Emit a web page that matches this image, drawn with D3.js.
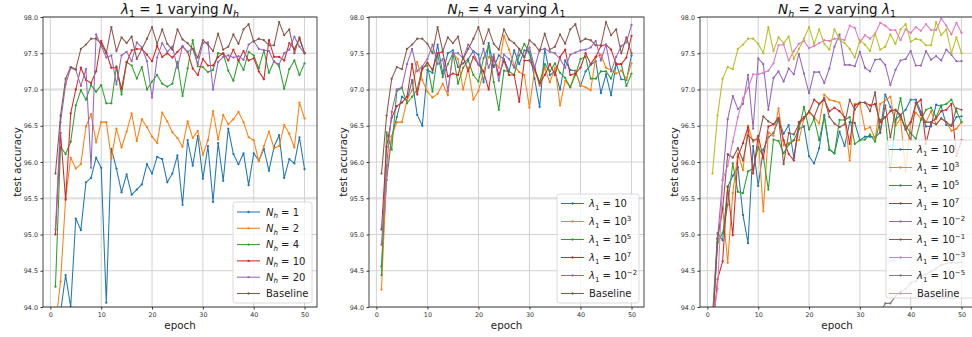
<!DOCTYPE html>
<html><head><meta charset="utf-8">
<script src="https://cdn.jsdelivr.net/npm/d3@7"></script>
<style>body{margin:0;background:#fff}svg{display:block}text{white-space:pre}</style>
</head><body><svg id="c" width="972" height="337"></svg>
<script>
// ---------- data ----------
const epochs = [1,2,3,4,5,6,7,8,9,10,11,12,13,14,15,16,17,18,19,20,21,22,23,24,25,26,27,28,29,30,31,32,33,34,35,36,37,38,39,40,41,42,43,44,45,46,47,48,49,50];
const yTicks = [94.0,94.5,95.0,95.5,96.0,96.5,97.0,97.5,98.0];
const xTicks = [0,10,20,30,40,50];

const baseline = [95.84,96.64,97.15,97.31,97.28,97.56,97.62,97.70,97.70,97.63,97.50,97.86,97.53,97.72,97.64,97.73,97.42,97.56,97.70,97.86,97.63,97.83,97.63,97.55,97.83,97.69,97.64,97.56,97.44,97.68,97.62,97.53,97.77,97.55,97.59,97.76,97.63,97.83,97.90,97.66,97.70,97.68,97.61,97.61,97.93,97.75,97.83,97.50,97.72,97.50];

// panel 1: lambda_1 = 1, varying N_h
const nh1 = [92.5,93.93,94.44,94.0,95.22,95.06,95.72,95.78,96.06,95.92,94.06,96.18,95.91,95.58,95.83,95.55,95.62,95.69,95.97,95.84,96.07,96.04,95.72,95.84,96.09,95.41,96.30,95.95,96.36,95.77,96.22,95.45,96.26,95.74,96.46,96.11,95.97,96.12,95.68,96.12,96.02,96.18,95.88,96.21,96.37,95.78,96.04,95.98,96.34,95.90];
const nh2 = [93.74,94.35,95.50,96.06,95.91,95.97,96.49,96.66,96.27,96.55,96.55,96.05,96.46,96.20,96.42,96.67,96.29,96.59,96.48,96.35,96.26,96.68,96.56,96.41,96.33,96.21,96.56,96.33,96.43,96.10,96.30,96.70,96.31,96.65,96.52,96.59,96.69,96.55,96.34,96.30,96.01,96.22,96.42,96.19,96.22,96.51,96.39,96.20,96.82,96.60];
const nh4 = [94.28,96.21,96.11,96.28,96.78,96.99,96.86,97.06,96.97,97.06,96.81,96.81,97.32,96.93,97.38,97.33,97.15,97.31,97.00,97.11,97.20,97.08,97.04,97.08,97.38,96.91,97.29,97.68,97.32,97.31,97.24,97.27,97.50,97.49,97.26,97.12,97.40,97.27,97.52,97.47,97.29,97.54,97.23,97.39,97.32,97.01,97.28,97.40,97.20,97.36];
const nh10 = [95.00,96.40,95.48,96.67,97.00,97.30,97.13,97.09,97.25,97.67,97.51,97.30,97.30,97.01,97.37,97.54,97.56,97.56,97.48,97.39,97.60,97.45,97.50,97.44,97.52,97.59,97.52,97.29,97.20,97.42,97.33,97.33,97.45,97.50,97.40,97.55,97.40,97.53,97.40,97.43,97.25,97.14,97.68,97.45,97.45,97.40,97.64,97.56,97.70,97.50];
const nh20 = [95.07,96.55,97.07,97.30,97.27,97.05,97.28,95.92,97.76,97.60,97.44,97.47,97.07,97.47,97.52,97.39,97.65,97.58,97.39,96.89,97.44,97.64,97.52,97.59,97.30,97.60,97.52,97.56,97.35,97.64,97.65,97.00,97.38,97.45,97.47,97.44,97.46,97.41,97.62,97.67,97.56,97.54,97.53,97.38,97.35,97.50,97.55,97.73,97.59,97.50];

// panel 2: N_h = 4, varying lambda_1
const p2_l1e1 = [94.56,95.75,96.35,96.62,96.90,96.85,97.13,96.65,96.50,97.27,97.23,97.62,97.22,97.50,97.54,97.31,97.36,97.42,97.53,97.48,97.10,97.64,97.31,97.47,97.42,97.25,97.54,97.35,97.54,97.52,97.15,96.76,97.56,97.20,97.25,97.00,97.40,97.27,97.26,97.05,97.25,97.34,97.39,96.95,97.21,96.92,97.36,97.14,97.13,97.47];
const p2_l1e3 = [94.24,95.86,96.35,96.55,96.55,96.85,96.99,97.38,97.13,96.97,96.89,96.94,97.08,96.92,97.50,97.42,97.00,97.30,96.86,96.98,97.25,97.45,97.40,97.30,97.74,97.55,97.33,97.24,97.20,96.75,97.28,97.05,97.30,97.10,97.30,96.78,97.12,97.03,97.25,97.06,97.03,96.99,97.45,97.48,97.30,97.27,97.22,97.26,97.14,97.36];
const p2_l1e5 = [94.44,96.41,96.17,96.98,97.02,96.81,96.90,97.00,97.30,97.33,96.97,97.48,97.17,97.35,97.50,97.08,97.30,97.40,97.20,97.11,97.43,97.60,97.10,96.72,97.26,97.25,97.20,97.47,97.63,97.50,97.30,97.10,97.35,97.25,97.36,97.23,97.16,97.03,97.20,97.42,97.45,97.15,97.15,97.25,97.25,97.15,97.35,97.35,97.05,97.22];
const p2_l1e7 = [95.07,96.21,96.61,96.77,96.82,96.90,97.35,96.93,97.28,97.37,97.27,97.50,97.52,97.18,97.22,97.20,97.45,97.25,97.45,97.35,97.25,97.00,97.45,97.20,97.40,97.20,97.20,96.83,97.40,97.40,97.28,97.08,97.20,97.35,97.20,97.45,97.55,97.20,97.22,97.30,97.50,97.35,97.45,97.60,97.62,97.55,97.35,97.35,97.44,97.74];
const p2_l1em2 = [94.86,95.95,96.69,97.00,97.03,97.35,97.56,97.25,97.32,97.42,97.62,97.35,97.42,96.98,97.50,97.50,97.43,97.62,97.52,97.34,97.56,97.30,97.48,97.12,97.48,97.42,97.30,97.55,97.45,97.58,97.30,97.55,97.56,97.52,97.50,97.42,97.30,97.48,97.51,97.54,97.55,97.58,97.67,97.40,97.62,97.25,97.45,97.60,97.65,97.89];

// panel 3: N_h = 2, varying lambda_1
const p3_l1e1 = [93.85,95.02,94.92,95.66,95.81,95.93,95.27,94.88,96.22,95.67,96.17,96.34,96.40,96.59,96.39,96.51,96.06,96.46,96.49,96.08,95.98,96.19,96.65,96.17,96.12,96.42,96.22,96.55,96.54,96.30,96.35,96.35,96.34,96.41,96.93,96.76,96.58,96.65,96.72,96.86,96.86,96.69,96.49,96.49,96.79,96.77,96.51,96.50,96.62,96.63];
const p3_l1e3 = [93.8,94.95,95.38,94.61,95.57,96.12,95.89,96.50,96.28,96.35,95.32,96.41,96.36,96.74,96.23,96.26,96.30,96.30,96.60,96.68,96.62,96.53,96.93,96.86,96.84,96.82,96.60,96.02,96.80,96.80,96.45,96.48,96.32,96.80,96.85,96.90,96.50,96.60,95.87,96.55,96.68,96.60,96.55,96.70,96.52,96.60,96.55,96.43,96.46,96.55];
const p3_l1e5 = [93.7,94.88,95.02,95.41,95.98,95.59,95.57,95.87,95.91,96.21,96.07,95.62,96.31,96.29,96.12,96.24,96.30,96.45,96.76,96.45,96.60,96.30,96.63,96.17,96.12,96.58,96.58,96.62,96.25,96.30,96.31,96.38,96.28,96.58,96.62,95.88,96.55,96.88,96.50,96.40,96.32,96.58,96.72,96.75,96.62,96.78,96.80,96.86,96.70,96.55];
const p3_l1e7 = [93.6,94.38,94.63,95.66,94.99,96.07,96.26,96.48,95.84,96.36,96.05,96.49,96.52,96.60,96.30,96.11,96.02,96.55,96.62,96.69,96.86,96.80,96.86,96.70,96.75,96.70,96.62,96.25,96.78,96.82,96.82,96.78,96.80,96.55,96.62,96.70,96.72,96.65,96.45,96.55,96.80,96.86,96.25,96.55,96.60,96.70,96.72,96.80,96.08,96.30];
const p3_l1em2 = [93.7,94.94,95.75,96.59,96.91,96.73,96.80,97.20,96.46,97.43,97.35,96.72,97.16,97.25,97.11,97.29,97.21,97.49,97.22,96.95,97.24,97.24,97.09,97.29,97.59,97.76,97.34,97.34,97.32,97.52,97.30,97.25,97.41,97.42,97.34,97.06,97.27,97.40,97.42,97.53,97.33,97.33,97.53,97.41,97.46,97.40,97.55,97.48,97.39,97.39];
const p3_l1em1 = [93.7,94.94,95.35,96.11,96.06,96.19,96.02,96.37,96.30,96.31,96.63,96.56,96.52,96.61,95.97,96.40,96.38,96.52,96.60,96.70,96.62,96.80,96.88,96.62,96.53,96.48,96.52,96.86,96.72,96.82,96.82,96.70,96.96,96.40,96.78,96.34,96.72,96.62,96.45,96.30,96.82,96.65,96.55,96.55,96.52,96.60,96.55,96.50,96.74,96.72];
const p3_l1em3 = [93.8,94.25,95.75,95.95,96.28,96.62,96.88,97.02,97.21,97.21,97.23,97.26,97.36,97.61,97.62,97.40,97.53,97.63,97.67,97.57,97.60,97.64,97.68,97.67,97.70,97.70,97.68,97.88,97.85,97.65,97.75,97.70,97.77,97.92,97.88,97.82,97.82,97.68,97.83,97.78,97.86,97.81,97.90,97.82,97.82,97.98,97.88,97.76,97.92,97.78];
const p3_l1em5 = [88.5,89.6,90.4,90.9,91.3,91.6,91.9,92.1,92.3,92.5,92.6,92.7,92.8,92.9,93.0,93.1,93.1,93.2,93.3,93.3,93.4,93.4,93.5,93.5,93.6,93.6,93.6,93.7,93.7,93.75,93.8,93.85,93.9,93.93,94.05,94.05,94.15,94.21,94.25,94.33,94.36,94.42,94.45,94.49,94.53,94.58,94.60,94.61,94.61,94.62];

// labels (math parts)
const NH = v => [{t:"N",i:1},{t:"h",sub:1,i:1},{t:" = "+v}];
const LAM = (base, exp) => { const p=[{t:"λ",i:1},{t:"1",sub:1},{t:" = "+base}]; if(exp!==undefined) p.push({t:exp,sup:1}); return p; };
const BASE = [{t:"Baseline"}];

const C = ["#1f77b4","#ff7f0e","#2ca02c","#d62728","#9467bd","#8c564b","#e377c2","#7f7f7f","#bcbd22"];

const panels = [
  { left:43, right:317,
    title:[{t:"λ",i:1},{t:"1",sub:1},{t:" = 1 varying "},{t:"N",i:1},{t:"h",sub:1,i:1}],
    series:[[nh1,NH(1)],[nh2,NH(2)],[nh4,NH(4)],[nh10,NH(10)],[nh20,NH(20)],[baseline,BASE]],
    colors:[C[0],C[1],C[2],C[3],C[4],C[5]],
    legend:{x:233,y:202,w:79,h:101,y0:212,dy:16.3,hx:237,tx:266} },
  { left:369, right:644,
    title:[{t:"N",i:1},{t:"h",sub:1,i:1},{t:" = 4 varying "},{t:"λ",i:1},{t:"1",sub:1}],
    series:[[p2_l1e1,LAM("10")],[p2_l1e3,LAM("10","3")],[p2_l1e5,LAM("10","5")],[p2_l1e7,LAM("10","7")],[p2_l1em2,LAM("10","−2")],[baseline,BASE]],
    colors:[C[0],C[1],C[2],C[3],C[4],C[5]],
    legend:{x:557,y:194,w:82,h:109,y0:203.5,dy:18,hx:561,tx:589} },
  { left:700, right:974,
    title:[{t:"N",i:1},{t:"h",sub:1,i:1},{t:" = 2 varying "},{t:"λ",i:1},{t:"1",sub:1}],
    series:[[p3_l1e1,LAM("10")],[p3_l1e3,LAM("10","3")],[p3_l1e5,LAM("10","5")],[p3_l1e7,LAM("10","7")],[p3_l1em2,LAM("10","−2")],[p3_l1em1,LAM("10","−1")],[p3_l1em3,LAM("10","−3")],[p3_l1em5,LAM("10","−5")],[baseline,BASE]],
    colors:[C[0],C[1],C[2],C[3],C[4],C[5],C[6],C[7],C[8]],
    legend:{x:886,y:140,w:110,h:158,y0:149.5,dy:18,hx:889,tx:917} }
];

const TOP = 17, BOT = 307;
const FONT = "DejaVu Sans, Noto Sans, sans-serif";
const svg = d3.select("#c");

function mathText(sel, parts, fs) {
  let cur = 0;
  parts.forEach(p => {
    const shift = p.sub ? 0.25*fs : (p.sup ? -0.42*fs : 0);
    const ts = sel.append("tspan").text(p.t);
    if (shift - cur !== 0) ts.attr("dy", shift - cur);
    if (p.i) ts.attr("font-style", "italic");
    if (p.sub || p.sup) ts.attr("font-size", fs*0.7);
    cur = shift;
  });
}

panels.forEach((P, pi) => {
  const x = d3.scaleLinear().domain([-1.45, 52.45]).range([P.left, P.right]);
  const y = d3.scaleLinear().domain([94, 98]).range([BOT, TOP]);
  const g = svg.append("g");

  const clipId = "clip" + pi;
  svg.append("clipPath").attr("id", clipId).append("rect")
    .attr("x", P.left).attr("y", TOP).attr("width", P.right - P.left).attr("height", BOT - TOP);

  // grid
  g.append("g").selectAll("line").data(yTicks).join("line")
    .attr("x1", P.left).attr("x2", P.right).attr("y1", d => y(d)).attr("y2", d => y(d))
    .attr("stroke", d => (d === 97.0 || d === 95.5) ? "#e2e2e2" : "#d2d2d2")
    .attr("stroke-width", d => (d === 97.0 || d === 95.5) ? 2.6 : 1);
  g.append("g").selectAll("line").data(xTicks).join("line")
    .attr("y1", TOP).attr("y2", BOT).attr("x1", d => x(d)).attr("x2", d => x(d))
    .attr("stroke", "#d2d2d2").attr("stroke-width", 1);

  // series
  const line = d3.line().x((d, i) => x(epochs[i])).y(d => y(d));
  const sg = g.append("g").attr("clip-path", `url(#${clipId})`);
  P.series.forEach(([vals, lab], si) => {
    const col = P.colors[si];
    sg.append("path").datum(vals).attr("d", line)
      .attr("fill", "none").attr("stroke", col).attr("stroke-width", 1.05).attr("stroke-linejoin", "round");
    sg.append("g").selectAll("circle").data(vals).join("circle")
      .attr("cx", (d, i) => x(epochs[i])).attr("cy", d => y(d)).attr("r", 1.15).attr("fill", col);
  });

  // axes
  const ax = g.append("g").attr("transform", `translate(0,${BOT})`)
    .call(d3.axisBottom(x).tickValues(xTicks).tickSize(2.5).tickPadding(2.5).tickFormat(d3.format("d")));
  const ay = g.append("g").attr("transform", `translate(${P.left},0)`)
    .call(d3.axisLeft(y).tickValues(yTicks).tickSize(2.5).tickPadding(2.5).tickFormat(d3.format(".1f")));
  [ax, ay].forEach(a => {
    a.select(".domain").remove();
    a.selectAll("line").attr("stroke", "#333");
    a.selectAll("text").attr("font-family", FONT).attr("font-size", 6.4).attr("fill", "#333");
  });
  g.append("rect").attr("x", P.left).attr("y", TOP).attr("width", P.right - P.left).attr("height", BOT - TOP)
    .attr("fill", "none").attr("stroke", "#333").attr("stroke-width", 0.9);

  // axis labels
  const cx = (P.left + P.right) / 2;
  g.append("text").attr("x", cx).attr("y", 329).attr("text-anchor", "middle")
    .attr("font-family", FONT).attr("font-size", 10.3).attr("fill", "#222").text("epoch");
  g.append("text").attr("transform", `translate(${P.left - 22},${(TOP + BOT) / 2}) rotate(-90)`)
    .attr("text-anchor", "middle").attr("font-family", FONT).attr("font-size", 10.3).attr("fill", "#222").text("test accuracy");

  // title
  const t = g.append("text").attr("x", cx).attr("y", 14).attr("text-anchor", "middle")
    .attr("font-family", FONT).attr("font-size", 13.5).attr("fill", "#111");
  mathText(t, P.title, 13.5);

  // legend
  const L = P.legend;
  const lg = g.append("g");
  lg.append("rect").attr("x", L.x).attr("y", L.y).attr("width", L.w).attr("height", L.h).attr("rx", 2.5)
    .attr("fill", "#fff").attr("fill-opacity", 0.8).attr("stroke", "#d0d0d0").attr("stroke-width", 0.8);
  P.series.forEach(([vals, lab], si) => {
    const yy = L.y0 + si * L.dy;
    const col = P.colors[si];
    lg.append("line").attr("x1", L.hx).attr("x2", L.hx + 23).attr("y1", yy).attr("y2", yy)
      .attr("stroke", col).attr("stroke-width", 1.05);
    lg.append("circle").attr("cx", L.hx + 11.5).attr("cy", yy).attr("r", 1.15).attr("fill", col);
    const tx = lg.append("text").attr("x", L.tx).attr("y", yy + 3.7).attr("font-family", FONT)
      .attr("font-size", 10).attr("fill", "#222");
    mathText(tx, lab, 10);
  });
});
</script></body></html>
